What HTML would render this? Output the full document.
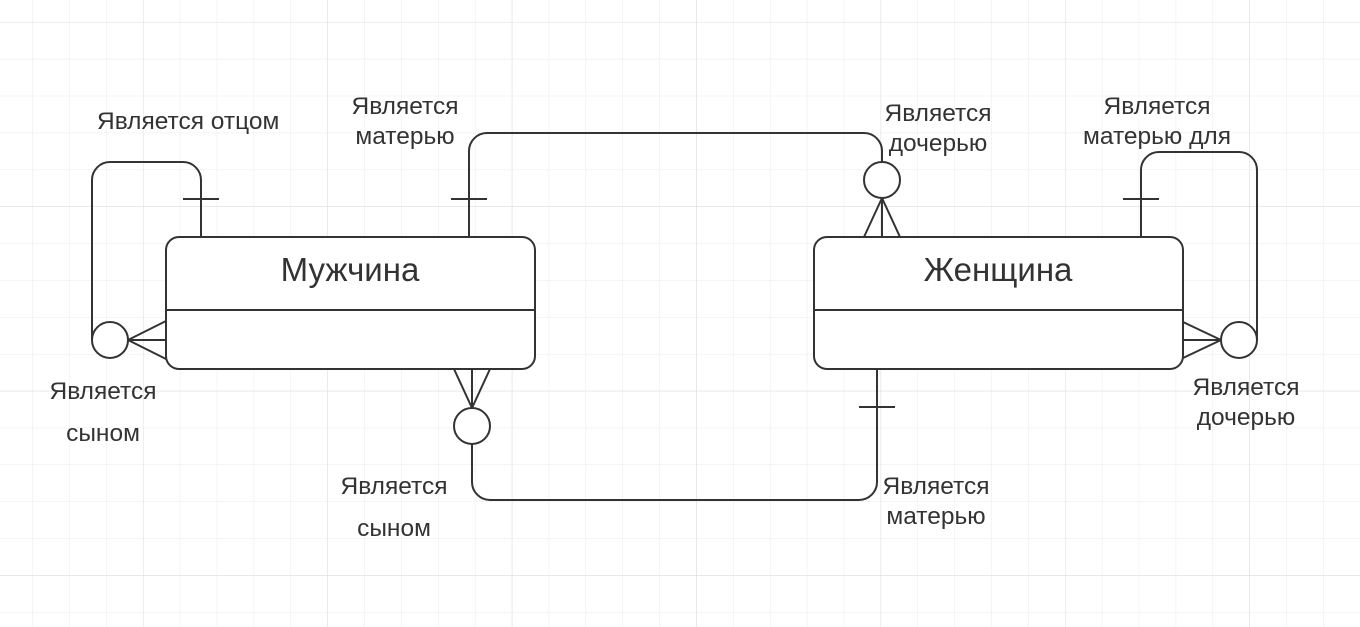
<!DOCTYPE html>
<html><head><meta charset="utf-8"><style>
html,body{margin:0;padding:0;background:#fff;}
svg{display:block}
text{font-family:"Liberation Sans","DejaVu Sans",sans-serif;fill:#333;font-size:24.5px;}
</style></head><body>
<svg width="1360" height="627" viewBox="0 0 1360 627" xmlns="http://www.w3.org/2000/svg">
<defs>
<pattern id="g" x="143" y="22" width="36.88" height="36.88" patternUnits="userSpaceOnUse">
<path d="M0 0V36.88M0 0H36.88" stroke="#ebebeb" stroke-width="1" fill="none"/>
</pattern>
<pattern id="G" x="143" y="22" width="184.4" height="184.4" patternUnits="userSpaceOnUse">
<path d="M0 0V184.4M0 0H184.4" stroke="#dcdcdc" stroke-width="1" fill="none"/>
</pattern>
</defs>
<rect width="1360" height="627" fill="url(#g)"/>
<rect width="1360" height="627" fill="url(#G)"/>
<g stroke="#333" stroke-width="2" fill="none">
<path d="M201 237V180a18 18 0 0 0-18-18H110a18 18 0 0 0-18 18V340"/>
<path d="M183 199H219"/>
<circle cx="110" cy="340" r="18" fill="#fff"/>
<path d="M128 340L166 321M128 340H166M128 340L166 359"/>
<path d="M469 237V151a18 18 0 0 1 18-18H864a18 18 0 0 1 18 18V162"/>
<path d="M451 199H487"/>
<circle cx="882" cy="180" r="18" fill="#fff"/>
<path d="M882 198L864 237M882 198V237M882 198L900 237"/>
<path d="M454 369L472 408M472 369V408M490 369L472 408"/>
<circle cx="472" cy="426" r="18" fill="#fff"/>
<path d="M472 444V482a18 18 0 0 0 18 18H859a18 18 0 0 0 18-18V369"/>
<path d="M859 407H895"/>
<path d="M1141 237V170a18 18 0 0 1 18-18H1239a18 18 0 0 1 18 18V340"/>
<path d="M1123 199H1159"/>
<circle cx="1239" cy="340" r="18" fill="#fff"/>
<path d="M1221 340L1183 322M1221 340H1183M1221 340L1183 358"/>
<rect x="166" y="237" width="369" height="132" rx="13" fill="#fff"/>
<path d="M166 310H535"/>
<rect x="814" y="237" width="369" height="132" rx="13" fill="#fff"/>
<path d="M814 310H1183"/>
</g>
<text x="350" y="281" text-anchor="middle" style="font-size:33px">Мужчина</text>
<text x="998" y="281" text-anchor="middle" style="font-size:33px">Женщина</text>
<text x="97" y="129">Является отцом</text>
<text x="405" y="114" text-anchor="middle">Является</text>
<text x="405" y="144" text-anchor="middle">матерью</text>
<text x="938" y="121" text-anchor="middle">Является</text>
<text x="938" y="151" text-anchor="middle">дочерью</text>
<text x="1157" y="114" text-anchor="middle">Является</text>
<text x="1157" y="144" text-anchor="middle">матерью для</text>
<text x="103" y="399" text-anchor="middle">Является</text>
<text x="103" y="441" text-anchor="middle">сыном</text>
<text x="394" y="494" text-anchor="middle">Является</text>
<text x="394" y="536" text-anchor="middle">сыном</text>
<text x="936" y="494" text-anchor="middle">Является</text>
<text x="936" y="524" text-anchor="middle">матерью</text>
<text x="1246" y="395" text-anchor="middle">Является</text>
<text x="1246" y="425" text-anchor="middle">дочерью</text>
</svg>
</body></html>
